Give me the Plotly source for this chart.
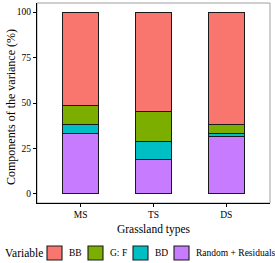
import plotly.graph_objects as go

categories = ["MS", "TS", "DS"]
random_resid = [33.3, 18.8, 31.7]
bd = [4.7, 10.2, 1.6]
gf = [10.7, 16.1, 5.1]
bb = [51.3, 54.9, 61.6]
y_ticks = [0, 25, 50, 75, 100]

# stacking order bottom -> top
series = [
    ("Random + Residuals", random_resid, "#C77CFF"),
    ("BD", bd, "#00BFC4"),
    ("G: F", gf, "#7CAE00"),
    ("BB", bb, "#F8766D"),
]

W, H = 275, 263
L, R, T, B = 37, 5, 3, 60
pw, ph = W - L - R, H - T - B

def px_x(px):
    return (px - L) / pw

def px_y(py):
    return (H - B - py) / ph

fig = go.Figure()
for name, vals, col in series:
    fig.add_trace(go.Bar(
        x=categories, y=vals, name=name, showlegend=False,
        marker=dict(color=col, line=dict(color="#1a1a1a", width=1.1)),
        width=0.5, hoverinfo="skip",
    ))

font = "Liberation Serif, Times New Roman, serif"

shapes = [dict(type="rect", xref="paper", yref="paper", x0=0, x1=1, y0=0, y1=1,
               line=dict(color="#a0a0a0", width=1), layer="below")]
annotations = [
    dict(text="Variable", xref="paper", yref="paper",
         x=px_x(3), y=px_y(252.5), xanchor="left", yanchor="middle",
         showarrow=False, font=dict(size=11.5)),
    dict(text="Components of the variance (%)", xref="paper", yref="paper",
         x=px_x(11), y=px_y(107), xanchor="center", yanchor="middle", textangle=-90,
         showarrow=False, font=dict(size=12)),
]

# manual legend (legend order: reversed stacking order)
legend_x = [47, 88, 133, 174]
for (name, vals, col), sx in zip(series[::-1], legend_x):
    shapes.append(dict(type="rect", xref="paper", yref="paper",
                       x0=px_x(sx), x1=px_x(sx + 15), y0=px_y(260), y1=px_y(246),
                       fillcolor=col, line=dict(color="#1a1a1a", width=1.1)))
    annotations.append(dict(text=name, xref="paper", yref="paper",
                            x=px_x(sx + 20), y=px_y(253), xanchor="left", yanchor="middle",
                            showarrow=False, font=dict(size=9.5)))

fig.update_layout(
    barmode="stack",
    width=W, height=H,
    margin=dict(l=L, r=R, t=T, b=B, autoexpand=False),
    plot_bgcolor="white", paper_bgcolor="white",
    font=dict(family=font, color="black", size=10),
    showlegend=False,
    xaxis=dict(
        range=[-0.6, 2.6], showline=True, linecolor="black", linewidth=1,
        ticks="outside", ticklen=3, tickcolor="black",
        title=dict(text="Grassland types", font=dict(size=11.5), standoff=5),
        tickfont=dict(size=9.5), showgrid=False,
    ),
    yaxis=dict(
        range=[-5, 105], showline=True, linecolor="black", linewidth=1,
        tickvals=y_ticks, ticks="outside", ticklen=3, tickcolor="black",
        tickfont=dict(size=9.5), showgrid=False, zeroline=False,
    ),
    shapes=shapes,
    annotations=annotations,
)

fig.write_html("out.html", config={"displayModeBar": False},
               post_script="document.body.style.margin='0';document.body.style.overflow='hidden';")
